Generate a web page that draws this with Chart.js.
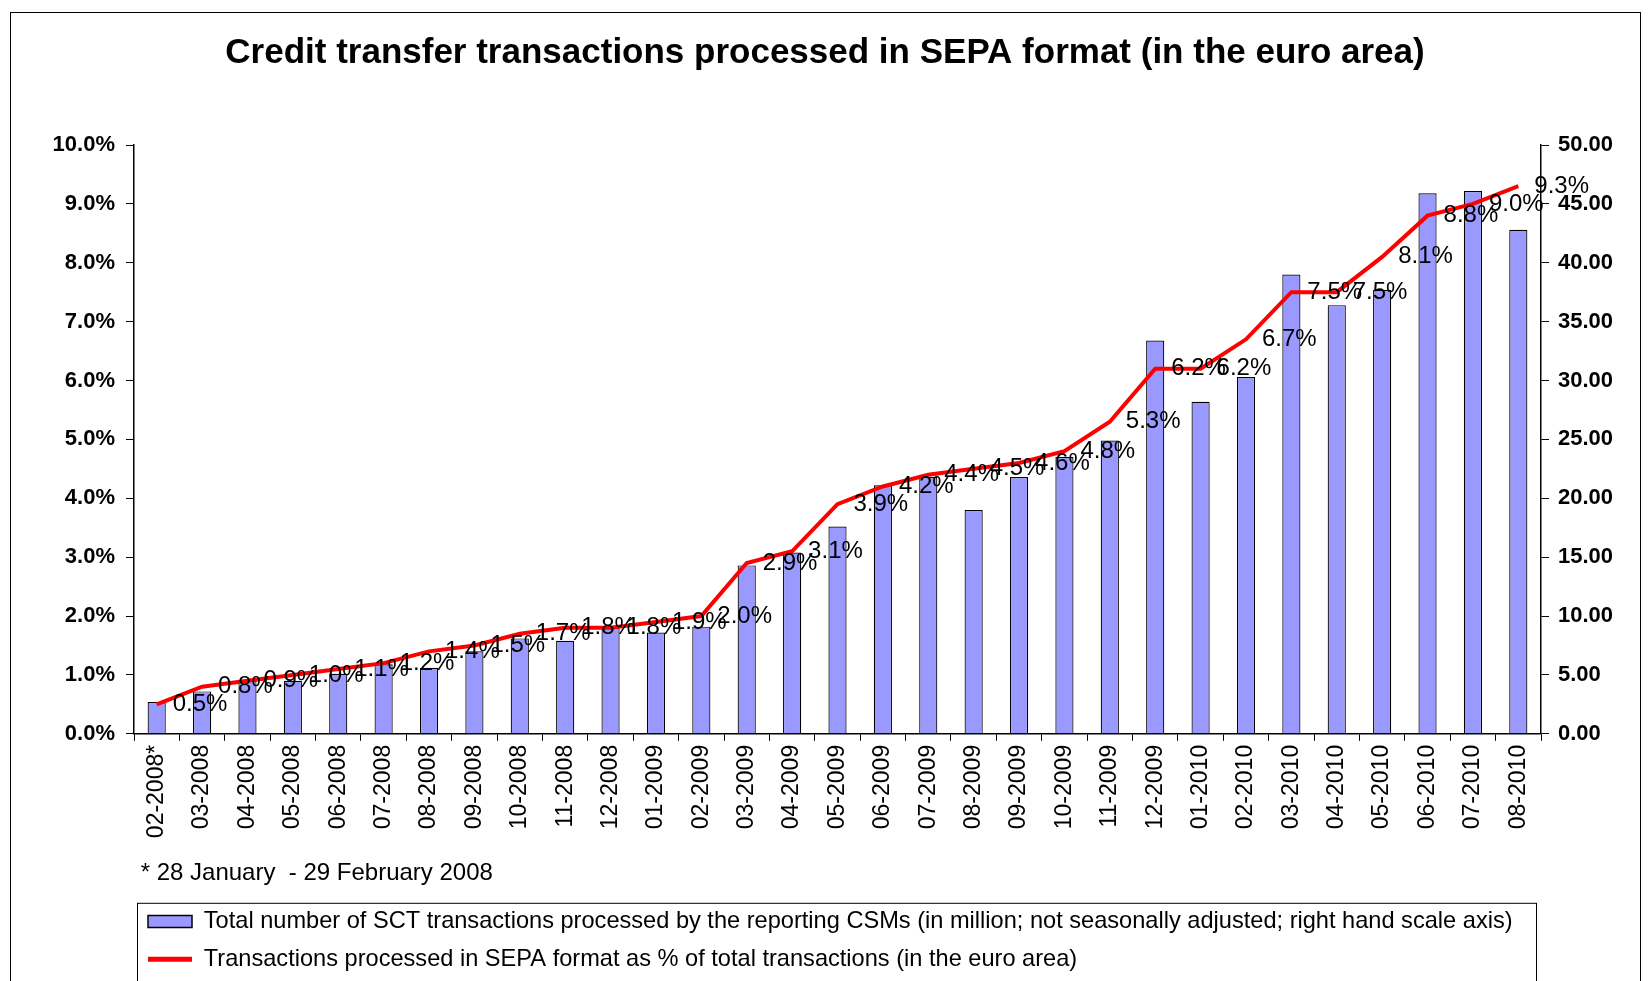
<!DOCTYPE html>
<html>
<head>
<meta charset="utf-8">
<script src="https://cdn.jsdelivr.net/npm/chart.js@4/dist/chart.umd.min.js"></script>
<style>
  body { margin: 0; background: #fff; }
  canvas { display: block; }
</style>
</head>
<body>
<canvas id="myChart" width="1650" height="981"></canvas>
<script>
const months = ['02-2008*', '03-2008', '04-2008', '05-2008', '06-2008', '07-2008', '08-2008',
  '09-2008', '10-2008', '11-2008', '12-2008', '01-2009', '02-2009', '03-2009', '04-2009',
  '05-2009', '06-2009', '07-2009', '08-2009', '09-2009', '10-2009', '11-2009', '12-2009',
  '01-2010', '02-2010', '03-2010', '04-2010', '05-2010', '06-2010', '07-2010', '08-2010'];

// million transactions (right axis)
const sctTotal = [2.7, 3.6, 4.5, 4.5, 5.1, 5.9, 5.6, 7.0, 8.1, 7.9, 9.0, 8.6, 9.1, 14.3, 15.4,
  17.6, 21.1, 21.8, 19.0, 21.8, 23.5, 24.9, 33.4, 28.2, 30.3, 39.0, 36.4, 37.7, 45.9, 46.1, 42.8];

// share in SEPA format, % (left axis)
const sepaShare = [0.5, 0.8, 0.9, 1.0, 1.1, 1.2, 1.4, 1.5, 1.7, 1.8, 1.8, 1.9, 2.0, 2.9, 3.1,
  3.9, 4.2, 4.4, 4.5, 4.6, 4.8, 5.3, 6.2, 6.2, 6.7, 7.5, 7.5, 8.1, 8.8, 9.0, 9.3];

const barLabel = 'Total number of SCT transactions processed by the reporting CSMs (in million; not seasonally adjusted; right hand scale axis)';
const lineLabel = 'Transactions processed in SEPA format as % of total transactions (in the euro area)';
const footNote = '* 28 January  - 29 February 2008';

const FONT = "'Liberation Sans', Arial, sans-serif";

// percentage labels to the right of each point of the red line
const pointLabels = {
  id: 'pointLabels',
  afterDatasetsDraw(chart) {
    const ctx = chart.ctx;
    const meta = chart.getDatasetMeta(1);
    ctx.save();
    ctx.font = '24px ' + FONT;
    ctx.fillStyle = '#000';
    ctx.textAlign = 'left';
    ctx.textBaseline = 'middle';
    meta.data.forEach(function (pt, i) {
      ctx.fillText(sepaShare[i].toFixed(1) + '%', pt.x + 16, pt.y);
    });
    ctx.restore();
  }
};

// outer frame and legend box
const frames = {
  id: 'frames',
  afterDraw(chart) {
    const ctx = chart.ctx;
    const lg = chart.legend;
    ctx.save();
    ctx.strokeStyle = '#000';
    ctx.lineWidth = 1;
    ctx.strokeRect(10.5, 12.5, 1630, 1000);
    ctx.strokeRect(lg.left + 3.5, lg.top + 7.5, lg.width - 8, 120);
    ctx.restore();
  }
};

var chart = new Chart('myChart', {
  data: {
    labels: months,
    datasets: [
      {
        type: 'bar',
        label: barLabel,
        data: sctTotal,
        yAxisID: 'y1',
        backgroundColor: '#9999FF',
        borderColor: '#000',
        borderWidth: 1.2,
        barPercentage: 0.4,
        categoryPercentage: 1,
        order: 2
      },
      {
        type: 'line',
        label: lineLabel,
        data: sepaShare,
        yAxisID: 'y',
        borderColor: '#FF0000',
        backgroundColor: '#FF0000',
        borderWidth: 4,
        pointRadius: 0,
        tension: 0,
        fill: false,
        order: 1
      }
    ]
  },
  options: {
    responsive: false,
    animation: false,
    devicePixelRatio: 1,
    layout: { padding: 0 },
    scales: {
      x: {
        grid: { offset: true, drawOnChartArea: false, drawTicks: true, tickLength: 7, color: '#000' },
        border: { color: '#000', width: 1.5 },
        ticks: {
          autoSkip: false, maxRotation: 90, minRotation: 90, padding: 4,
          color: '#000', font: { family: FONT, size: 23 }
        },
        afterFit(scale) { scale.height = 110; }
      },
      y: {
        position: 'left',
        min: 0, max: 10,
        grid: { drawOnChartArea: false, tickLength: 8, color: '#000' },
        border: { color: '#000', width: 1.5 },
        ticks: {
          stepSize: 1, padding: 11, color: '#000',
          font: { family: FONT, size: 22, weight: 'bold' },
          callback: function (v) { return v.toFixed(1) + '%'; }
        },
        afterFit(scale) { scale.width = 134; }
      },
      y1: {
        position: 'right',
        min: 0, max: 50,
        grid: { drawOnChartArea: false, tickLength: 8, color: '#000' },
        border: { color: '#000', width: 1.5 },
        ticks: {
          stepSize: 5, padding: 9, color: '#000',
          font: { family: FONT, size: 22, weight: 'bold' },
          callback: function (v) { return v.toFixed(2); }
        },
        afterFit(scale) { scale.width = 109; }
      }
    },
    plugins: {
      title: {
        display: true,
        text: 'Credit transfer transactions processed in SEPA format (in the euro area)',
        color: '#000',
        font: { family: FONT, size: 35, weight: 'bold' },
        padding: { top: 32, bottom: 71 }
      },
      subtitle: {
        display: true,
        text: ' ' + footNote,
        position: 'bottom',
        align: 'start',
        fullSize: false,
        weight: 100,
        color: '#000',
        font: { family: FONT, size: 24 },
        padding: { top: 15.6, bottom: 7.6 }
      },
      legend: {
        position: 'bottom',
        align: 'start',
        fullSize: false,
        labels: {
          color: '#000',
          font: { family: FONT, size: 23.6 },
          padding: 14,
          usePointStyle: true,
          pointStyleWidth: 44,
          boxHeight: 12,
          generateLabels: function (chart) {
            return [
              { text: barLabel, datasetIndex: 0, pointStyle: 'rect', fillStyle: '#9999FF',
                strokeStyle: '#000', lineWidth: 1.5, fontColor: '#000' },
              { text: lineLabel, datasetIndex: 1, pointStyle: 'line', fillStyle: '#FF0000',
                strokeStyle: '#FF0000', lineWidth: 5, fontColor: '#000' }
            ];
          }
        }
      },
      tooltip: { enabled: false }
    }
  },
  plugins: [pointLabels, frames]
});
</script>
</body>
</html>
